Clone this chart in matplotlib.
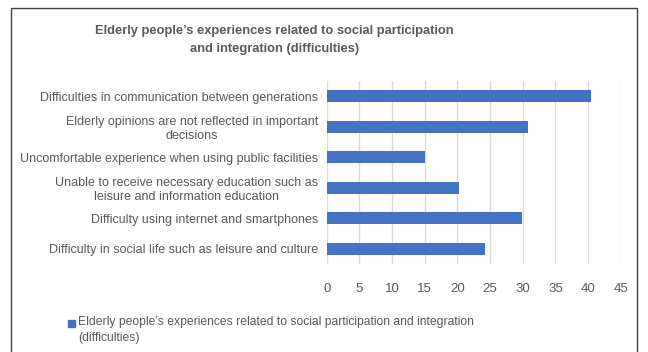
import matplotlib.pyplot as plt
from matplotlib.patches import Rectangle

plt.rcParams['font.family'] = ['Liberation Sans', 'DejaVu Sans']

categories = [
    'Difficulties in communication between generations',
    'Elderly opinions are not reflected in important\ndecisions',
    'Uncomfortable experience when using public facilities',
    'Unable to receive necessary education such as\nleisure and information education',
    'Difficulty using internet and smartphones',
    'Difficulty in social life such as leisure and culture',
]
values = [40.5, 30.8, 15.1, 20.2, 29.9, 24.3]
xticks = [0, 5, 10, 15, 20, 25, 30, 35, 40, 45]
series_name = "Elderly people\u2019s experiences related to social participation and integration\n(difficulties)"
title = "Elderly people\u2019s experiences related to social participation\nand integration (difficulties)"

blue = '#4472c4'
text_gray = '#595959'

fig = plt.figure(figsize=(6.48, 3.52), dpi=100)
ax = fig.add_axes([0.5042, 0.25, 0.4537, 0.52])

y = list(range(len(categories)))
ax.barh(y, values, height=0.4, color=blue, zorder=3)
ax.set_ylim(len(categories) - 0.5, -0.5)
ax.set_xlim(0, 45)
ax.set_xticks(xticks)
ax.set_yticks(y)
ax.set_yticklabels(categories, fontsize=9, color=text_gray, multialignment='center')
ax.tick_params(axis='both', length=0)
ax.tick_params(axis='x', labelsize=9.5, labelcolor=text_gray, pad=14)
ax.tick_params(axis='y', pad=6)
ax.grid(axis='x', color='#d9d9d9', linewidth=1, zorder=0)
for s in ax.spines.values():
    s.set_visible(False)

fig.text(0.423, 1 - 40 / 352, title, ha='center', va='center', fontsize=9.3,
         fontweight='bold', color=text_gray, linespacing=1.75)

# legend
fig.patches.append(Rectangle((68 / 648, 1 - 327 / 352), 7 / 648, 7 / 352,
                             transform=fig.transFigure, color=blue))
fig.text(78 / 648, 1 - 316 / 352, series_name, ha='left', va='top',
         fontsize=8.7, color=text_gray, linespacing=1.5)

# chart frame
fig.patches.append(Rectangle((11 / 648, -0.02), 626 / 648, 1 - 8 / 352 + 0.02,
                             transform=fig.transFigure, fill=False,
                             edgecolor='#404040', linewidth=1))

fig.savefig('out.png', dpi=100)
